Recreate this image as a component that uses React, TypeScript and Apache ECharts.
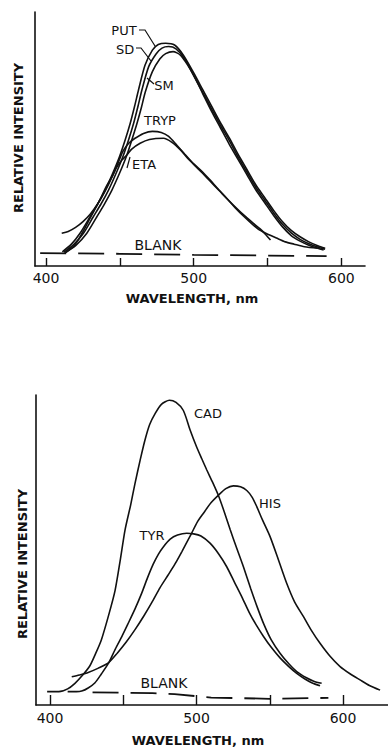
import React, { useEffect, useRef } from "react";
import * as echarts from "echarts";

// ---------- Top panel (wavelength nm, relative intensity) ----------
const putData: [number, number][] = [
  [411, 5.6], [417, 8.5], [423, 12.9], [429.8, 19.4], [435, 24.5], [440, 29.9], [445, 36.3],
  [449.7, 43], [453.5, 49.5], [457, 56.2], [460, 63], [462.6, 69.3], [467, 79], [472, 85],
  [476, 87.2], [481, 87.7], [487, 87], [493, 83], [500, 76], [506, 69.5], [512, 63], [518, 56.5],
  [524, 50.5], [530, 44], [536, 38], [542, 32], [548, 27], [554, 22], [560, 17.5], [566, 14],
  [572, 11.5], [578, 9.5], [584, 8], [589, 7],
];
const sdData: [number, number][] = [
  [412, 5.4], [418.5, 8.3], [425.3, 12.9], [432, 19.4], [437.3, 24.5], [442.3, 29.9], [447.3, 36.3],
  [452, 43], [455.8, 49.5], [459.3, 56.2], [462.3, 63], [464.9, 69.3], [469.5, 78.5], [474.5, 83.5],
  [478.5, 85.8], [483, 86.4], [488, 85.5], [494, 81.5], [500, 75], [506, 68.5], [512, 62],
  [518, 55.5], [524, 49.5], [530, 43], [536, 37], [542, 31], [548, 26], [554, 21], [560, 16.5],
  [566, 13], [572, 10.5], [578, 8.8], [584, 7.5], [589, 6.6],
];
const smData: [number, number][] = [
  [413, 5.2], [420, 8], [427.6, 12.9], [434.4, 19.4], [439.6, 24.5], [444.6, 29.9], [449.6, 36.3],
  [454.3, 43], [458, 49.5], [461.6, 56.2], [464.6, 62.5], [467.2, 68.5], [472, 76.5], [477, 81.5],
  [481, 83.6], [486, 84.4], [491, 83], [496, 79], [500, 75], [506, 68], [512, 61], [518, 54.5],
  [524, 48], [530, 42], [536, 36], [542, 30], [548, 25], [554, 20], [560, 15.5], [566, 12],
  [572, 9.8], [578, 8.2], [584, 7], [588, 6.3],
];
const trypData: [number, number][] = [
  [410.6, 12.9], [415, 13.6], [420, 15.2], [425, 17.5], [430, 20.5], [435, 24.5], [440, 29.5],
  [445, 35.5], [449, 41], [452.4, 45.5], [456, 48.3], [460, 50.2], [466, 52.2], [472, 53],
  [478, 52.6], [483, 51], [488.6, 47.5], [494, 44], [500, 40.2], [506, 37], [511, 33.9], [517, 30],
  [522.5, 26.6], [528, 23.3], [534, 20], [540, 17], [545, 14.6], [549, 12.2], [552, 10.2],
];
const etaData: [number, number][] = [
  [413, 5.3], [419, 8], [424, 12.5], [430, 19], [436, 25.5], [441, 31.5], [445, 35.5], [448, 39],
  [451.5, 41.8], [454.7, 43.7], [458, 46], [463.7, 48.3], [470, 49.8], [479.5, 50.3], [485, 48.8],
  [491, 45.7], [496, 42.3], [500, 40], [506, 36.5], [511, 33.5], [517, 29.8], [522.5, 26.5],
  [528, 23], [534, 19.5], [540, 16.3], [545, 14], [551, 12.3], [556, 11], [562, 9.5], [568, 8.6],
  [575, 7.6], [584, 7],
];
const blankTopData: [number, number][] = [
  [396, 5.1], [450, 4.8], [500, 4.4], [550, 4.1], [590, 3.9],
];

// ---------- Bottom panel ----------
const cadData: [number, number][] = [
  [398, 4.3], [406, 4.3], [412, 5.2], [417, 7], [422, 9.5], [427, 12.5], [431, 16.5], [435, 21],
  [440, 29], [444.4, 37], [448, 47], [451.2, 56.5], [455, 64.5], [458, 71.5], [461.5, 79],
  [464.8, 85.5], [468, 90.5], [471.7, 94], [476, 97], [481.5, 98.3], [486, 97.6], [491, 95],
  [495.6, 88.7], [500, 83.3], [503.5, 79.5], [507, 75.8], [511, 71.8], [515, 67.5], [519, 62.2],
  [523, 56.5], [527.5, 50.5], [532, 44.6], [537, 37.5], [541.5, 31.5], [546, 26], [551, 21],
  [557, 16.7], [563, 13.3], [568.4, 10.8], [575, 8.8], [580, 7.7], [585.4, 7],
];
const hisData: [number, number][] = [
  [414.8, 9.1], [420, 9.7], [426, 10.5], [433, 11.9], [439.8, 13.6], [446, 16.8], [452, 20.3],
  [458, 24.3], [464, 28.7], [469.4, 33], [475, 37.8], [480.7, 42], [485.3, 45.5], [490, 49.5],
  [496.6, 55.4], [500.5, 59], [504.6, 61.8], [510, 65.3], [515, 67.7], [520, 69.8], [525.1, 70.7],
  [530, 70.4], [534.3, 69.2], [538, 67], [541.1, 64], [545, 59.7], [550.2, 54.3], [556, 46.7],
  [561.6, 39.2], [567, 33.2], [573, 28.5], [578.5, 24], [584.3, 19.9], [591, 15.8], [598, 12.4],
  [605, 10], [611.6, 8.1], [618, 6.3], [625.3, 4.8],
];
const tyrData: [number, number][] = [
  [412, 4.3], [418, 4.3], [421.6, 4.5], [426, 5.5], [430.7, 7.2], [435, 10], [439.8, 13.4],
  [444, 17.5], [448.9, 22], [453, 26], [458, 31], [462.5, 36], [466.5, 41], [470.5, 45.5],
  [474, 48.7], [477.3, 51], [482, 53.5], [487, 54.8], [493.3, 55.4], [498, 55.2], [503, 54.5],
  [509.2, 52.2], [515, 48.8], [520.6, 44.6], [526, 39.5], [531, 34.8], [536, 29.8], [540.5, 26],
  [545.6, 22.2], [551, 18.6], [557, 15.2], [563, 12.4], [568.4, 10.2], [574, 8.4], [579, 7.1],
  [584.3, 6.2],
];
const blankBottomData: [number, number][] = [
  [429, 4.1], [470, 3.8], [485, 3.5], [510, 2.4], [550, 2.0], [590, 2.3],
];

const majorTicks = [400, 450, 500, 550, 600];
const tickLabels = [400, 500, 600];

const INK = "#111";
const FONT = "DejaVu Sans";

function xAxisFor(gridIndex: number, min: number, max: number, tickLen: number, margin: number) {
  return {
    type: "value",
    gridIndex,
    min,
    max,
    axisLine: { show: true, onZero: false, lineStyle: { color: INK, width: 1.6 } },
    axisTick: {
      show: true,
      inside: true,
      length: tickLen,
      customValues: majorTicks,
      lineStyle: { color: INK, width: 1.4 },
    },
    axisLabel: {
      show: true,
      customValues: tickLabels,
      color: INK,
      fontFamily: FONT,
      fontSize: 14,
      margin,
    },
    splitLine: { show: false },
  };
}

function yAxisFor(gridIndex: number) {
  return {
    type: "value",
    gridIndex,
    min: 0,
    max: 100,
    axisLine: { show: true, lineStyle: { color: INK, width: 1.6 } },
    axisTick: { show: false },
    axisLabel: { show: false },
    splitLine: { show: false },
  };
}

function curve(data: [number, number][], idx: number, dashed = false) {
  return {
    type: "line",
    xAxisIndex: idx,
    yAxisIndex: idx,
    data,
    showSymbol: false,
    smooth: dashed ? false : 0.25,
    lineStyle: {
      color: INK,
      width: dashed ? 1.8 : 1.6,
      type: dashed ? [26, 12] : "solid",
    },
    silent: true,
  };
}

function label(text: string, x: number, y: number, size = 13) {
  return {
    type: "text",
    x,
    y,
    style: {
      text,
      fill: INK,
      font: `${size}px "${FONT}"`,
      textAlign: "center",
      textVerticalAlign: "middle",
    },
  };
}

function leader(points: number[][]) {
  return {
    type: "polyline",
    shape: { points },
    style: { stroke: INK, lineWidth: 1.2, fill: "none" },
  };
}

function axisTitle(text: string, x: number, y: number, vertical: boolean) {
  return {
    type: "text",
    x,
    y,
    rotation: vertical ? Math.PI / 2 : 0,
    style: {
      text,
      fill: INK,
      font: `bold 13px "${FONT}"`,
      textAlign: "center",
      textVerticalAlign: "middle",
    },
  };
}

export default function App() {
  const ref = useRef<HTMLDivElement>(null);
  useEffect(() => {
    if (!ref.current) return;
    const chart = echarts.init(ref.current, undefined, { renderer: "svg" });
    chart.setOption({
      animation: false,
      backgroundColor: "#fff",
      grid: [
        { left: 35, top: 12, width: 330, height: 254 },
        { left: 36, top: 395, width: 352, height: 310 },
      ],
      xAxis: [xAxisFor(0, 392.5, 616, 8, 5), xAxisFor(1, 390.4, 630.7, 10, 6)],
      yAxis: [yAxisFor(0), yAxisFor(1)],
      series: [
        curve(putData, 0),
        curve(sdData, 0),
        curve(smData, 0),
        curve(trypData, 0),
        curve(etaData, 0),
        curve(blankTopData, 0, true),
        curve(cadData, 1),
        curve(hisData, 1),
        curve(tyrData, 1),
        curve(blankBottomData, 1, true),
      ],
      graphic: [
        axisTitle("RELATIVE INTENSITY", 18, 138, true),
        axisTitle("WAVELENGTH, nm", 192, 298, false),
        axisTitle("RELATIVE INTENSITY", 22, 564, true),
        axisTitle("WAVELENGTH, nm", 198, 740, false),
        // top curve labels
        label("PUT", 124, 30),
        leader([[139, 30], [145, 30], [155, 46]]),
        label("SD", 125, 49),
        leader([[136, 48], [141, 48], [151, 61]]),
        label("SM", 164, 85),
        leader([[154, 84], [147, 78]]),
        label("TRYP", 160, 120),
        label("ETA", 144, 164),
        leader([[130, 157], [127, 168]]),
        label("BLANK", 158, 245, 14),
        // bottom curve labels
        label("CAD", 208, 413),
        label("HIS", 270, 503),
        label("TYR", 152, 535),
        label("BLANK", 164, 683, 14),
      ],
    });
    return () => chart.dispose();
  }, []);
  return (
    <div
      ref={ref}
      style={{ position: "absolute", left: 0, top: 0, width: 388, height: 748, background: "#fff" }}
    />
  );
}
